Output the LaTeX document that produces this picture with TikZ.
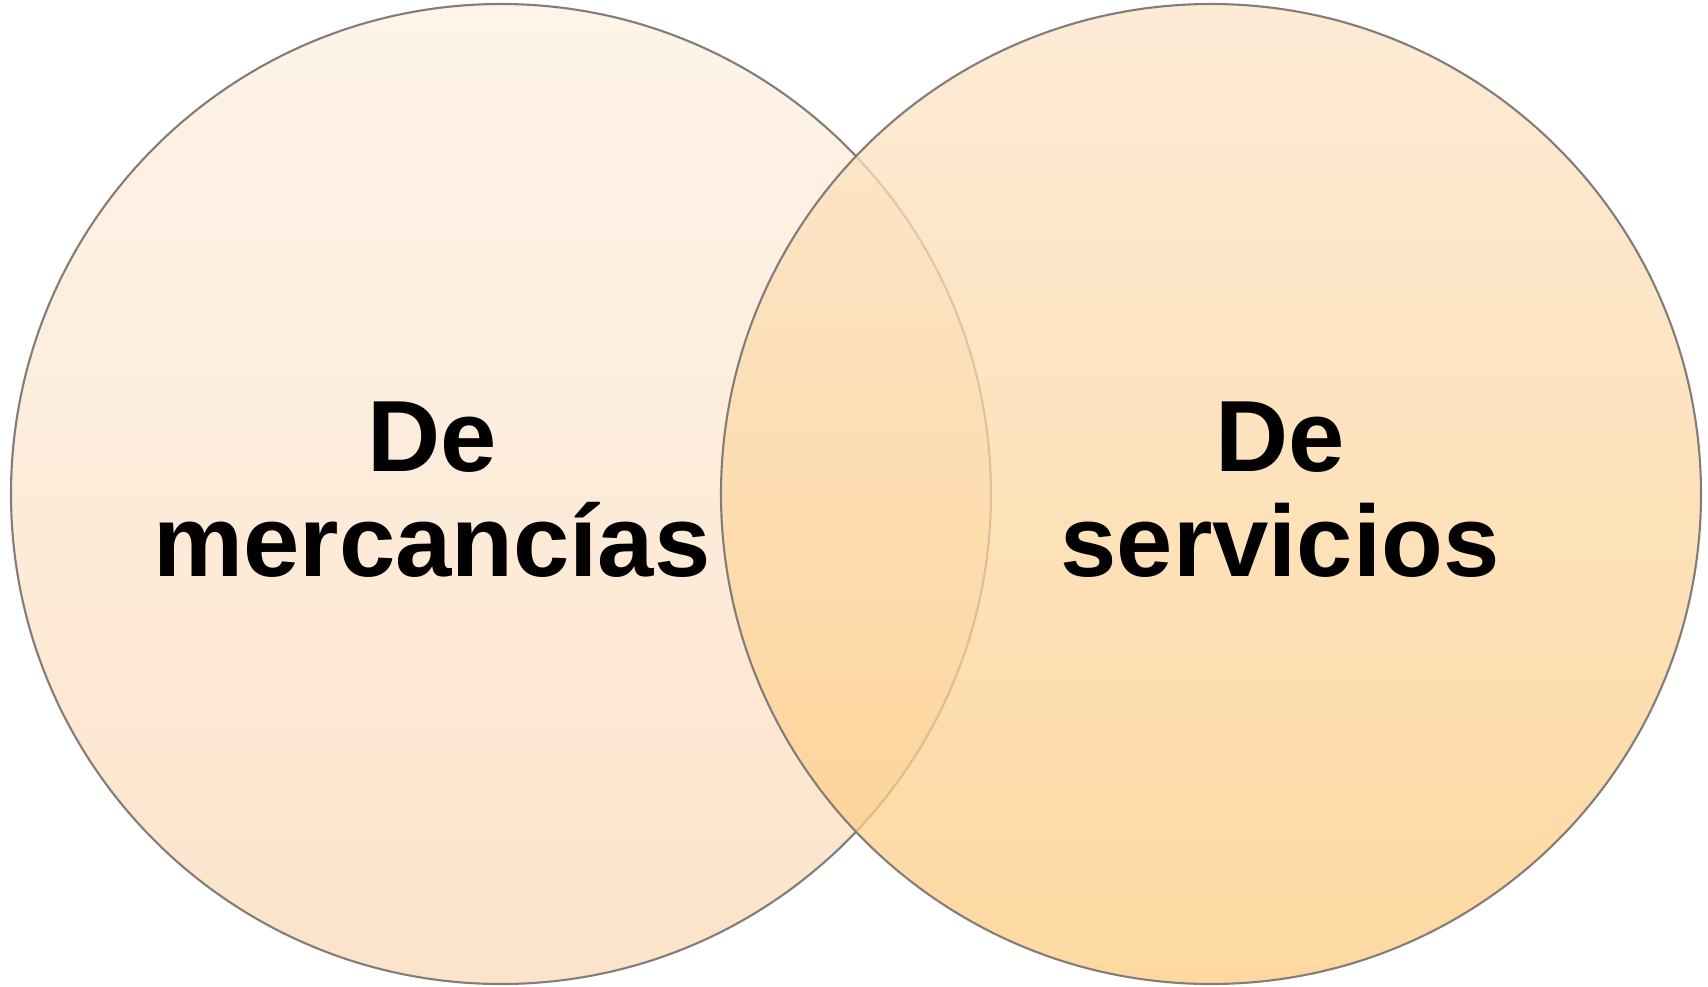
\documentclass[tikz,border=0pt]{standalone}
\usepackage{fontspec}
\newfontfamily\etiqfont{Liberation Sans}
\definecolor{mercalto}{RGB}{254,244,233}
\definecolor{mercbajo}{RGB}{252,227,202}
\definecolor{servalto}{RGB}{253,228,200}
\definecolor{servbajo}{RGB}{253,204,128}
\definecolor{borde}{RGB}{130,125,120}

\begin{document}
\begin{tikzpicture}
  \tikzstyle{circulo}=[circle, minimum size=9.8cm, inner sep=0, draw=borde, line width=0.6pt];
  \tikzstyle{etiqueta}=[align=center, inner sep=0, font=\etiqfont\bfseries\fontsize{28.8}{29.9}\selectfont];

  \useasboundingbox (0,0) rectangle (17.08,9.86);

  \node[circulo, top color=mercalto, bottom color=mercbajo] (M) at (5.01,4.92) {};
  \node[circulo, top color=servalto, bottom color=servbajo, fill opacity=0.75] (S) at (12.11,4.92) {};

  \node[etiqueta] (mtexto) at (4.32,4.96) {De\\mercancías};
  \node[etiqueta] (stexto) at (12.80,4.96) {De\\servicios};
\end{tikzpicture}
\end{document}
